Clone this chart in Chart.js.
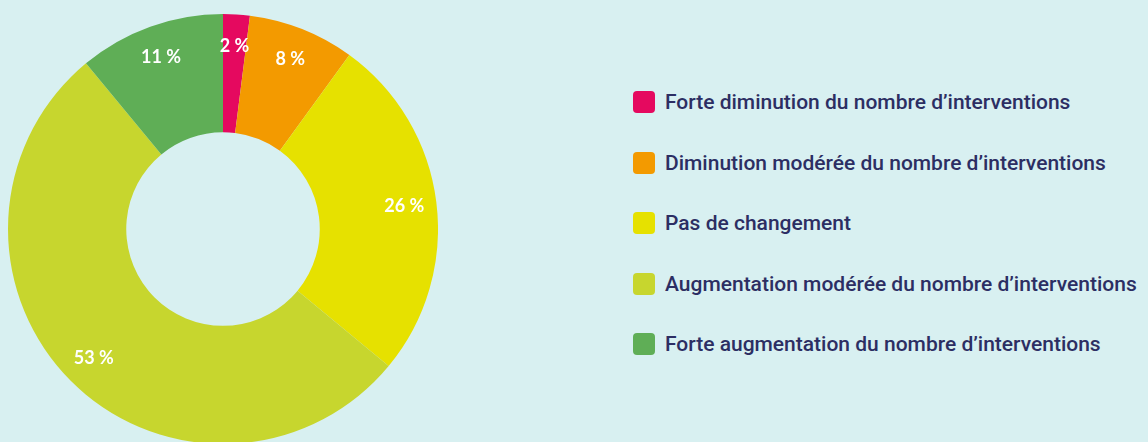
<!DOCTYPE html>
<html>
<head>
<meta charset="utf-8">
<script src="https://cdn.jsdelivr.net/npm/chart.js@4"></script>
<style>
  html, body { margin: 0; padding: 0; }
  body { width: 1148px; height: 442px; background: #d8f0f1; position: relative; overflow: hidden; }
  #chartBox { position: absolute; left: 8px; top: 14px; width: 430px; height: 430px; }
  #legend { position: absolute; left: 633px; top: 91px; margin: 0; padding: 0; list-style: none; }
  #legend li { display: flex; align-items: center; height: 22px; margin-bottom: 38.5px;
    font-family: Roboto, sans-serif; font-weight: 500; font-size: 21px; color: #2c2e63; white-space: nowrap; }
  #legend span { display: inline-block; width: 22px; height: 22px; border-radius: 4px; margin-right: 10px; flex: none; }
</style>
</head>
<body>
<div id="chartBox"><canvas id="dataChart" width="430" height="430"></canvas></div>
<ul id="legend"></ul>
<script>
var categories = [
    'Forte diminution du nombre d\u2019interventions',
    'Diminution modérée du nombre d\u2019interventions',
    'Pas de changement',
    'Augmentation modérée du nombre d\u2019interventions',
    'Forte augmentation du nombre d\u2019interventions'
];
var percents = [2, 8, 26, 53, 11];
var sliceColors = ['#e5095f', '#f39a00', '#e6e100', '#c7d62e', '#5fae56'];

// white % labels drawn on each slice
var sliceLabels = {
    id: 'sliceLabels',
    afterDatasetsDraw: function(chart) {
        var ctx = chart.ctx;
        var meta = chart.getDatasetMeta(0);
        ctx.save();
        ctx.fillStyle = '#ffffff';
        ctx.font = 'bold 18px Lato, sans-serif';
        ctx.textAlign = 'center';
        ctx.textBaseline = 'middle';
        meta.data.forEach(function(arc, i) {
            var p = arc.getProps(['x', 'y', 'startAngle', 'endAngle', 'outerRadius'], true);
            var mid = (p.startAngle + p.endAngle) / 2;
            var r = p.outerRadius * 0.85;
            ctx.fillText(chart.data.datasets[0].data[i] + ' %', p.x + Math.cos(mid) * r, p.y + Math.sin(mid) * r);
        });
        ctx.restore();
    }
};

var ctx = document.getElementById('dataChart').getContext('2d');

var myChart = new Chart(ctx, {
    type: 'doughnut',
    data: {
        labels: categories,
        datasets: [
            {
                data: percents,
                backgroundColor: sliceColors,
                borderWidth: 0,
                hoverOffset: 0,
                offset: 0
            }
        ]
    },
    options: {
        responsive: false,
        animation: false,
        cutout: '45%',
        layout: { padding: 0 },
        plugins: {
            legend: { display: false },
            tooltip: { enabled: false }
        }
    },
    plugins: [sliceLabels]
});

// legend built from the chart data
var legend = document.getElementById('legend');
myChart.data.labels.forEach(function(label, i) {
    var li = document.createElement('li');
    var box = document.createElement('span');
    box.style.background = myChart.data.datasets[0].backgroundColor[i];
    li.appendChild(box);
    li.appendChild(document.createTextNode(label));
    legend.appendChild(li);
});
</script>
</body>
</html>
